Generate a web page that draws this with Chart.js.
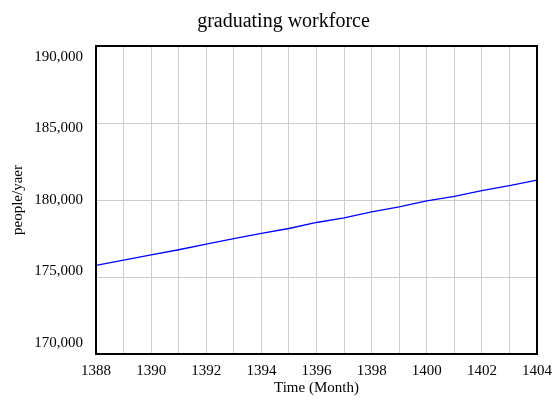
<!DOCTYPE html>
<html>
<head>
<meta charset="utf-8">
<script src="https://cdn.jsdelivr.net/npm/chart.js@4/dist/chart.umd.min.js"></script>
<style>
 html,body{margin:0;padding:0;background:#fff;}
 canvas{display:block;}
</style>
</head>
<body>
<canvas id="chart" width="553" height="403"></canvas>
<script>
// values
const years = [1388,1389,1390,1391,1392,1393,1394,1395,1396,1397,1398,1399,1400,1401,1402,1403,1404];
const workforce = [175760,176090,176440,176770,177140,177490,177840,178150,178540,178840,179230,179560,179950,180240,180610,180940,181290];
const yTicks = [170000,175000,180000,185000,190000];
const xLabelYears = [1388,1390,1392,1394,1396,1398,1400,1402,1404];
const chartTitle = 'graduating workforce';

const serif = '"Liberation Serif", "DejaVu Serif", serif';

// frame, title, and y labels pulled a bit toward the middle (like the original)
const framePlugin = {
 id:'frame',
 afterDraw(chart){
  const {ctx, chartArea:a} = chart;
  const ys = chart.scales.y;
  ctx.save();
  ctx.strokeStyle='#000'; ctx.lineWidth=2;
  ctx.strokeRect(a.left, a.top, a.right-a.left, a.bottom-a.top);
  ctx.fillStyle='#000';
  ctx.font='20px '+serif; ctx.textAlign='center'; ctx.textBaseline='middle';
  ctx.fillText(chartTitle, chart.width/2+7, 22);
  ctx.font='15px '+serif;
  ctx.textAlign='right';
  const mid=(a.top+a.bottom)/2;
  yTicks.forEach(v=>{
   const p=ys.getPixelForValue(v);
   ctx.fillText(v.toLocaleString('en-US'), a.left-13, p+(mid-p)*0.072);
  });
  ctx.restore();
 }
};

new Chart(document.getElementById('chart').getContext('2d'),{
 type:'line',
 data:{datasets:[{
  data: years.map((x,i)=>({x, y: workforce[i]})),
  borderColor:'#0000ff', borderWidth:1.3, pointRadius:0, tension:0, fill:false
 }]},
 options:{
  responsive:false, animation:false,
  layout:{padding:{left:0,right:16,top:46,bottom:0}},
  plugins:{ legend:{display:false}, tooltip:{enabled:false}, title:{display:false} },
  scales:{
   x:{type:'linear', min:1388, max:1404,
    grid:{color:'#cccccc', drawTicks:false},
    border:{display:false},
    ticks:{stepSize:1, padding:8, color:'#000', font:{family:serif,size:15}, maxRotation:0, autoSkip:false,
     callback:v=> xLabelYears.includes(v) ? String(v) : ''},
    title:{display:true, text:'Time (Month)', color:'#000', font:{family:serif,size:15}, padding:{top:0,bottom:6}},
    afterFit(s){ s.height=49; s.paddingLeft=0; s.paddingRight=0; }
   },
   y:{min:170000, max:190000,
    grid:{color:'#cccccc', drawTicks:false},
    border:{display:false},
    ticks:{stepSize:5000, display:false},
    title:{display:true, text:'people/yaer', color:'#000', font:{family:serif,size:15}, padding:{top:9,bottom:0}},
    afterFit(s){ s.width=96; s.paddingTop=0; s.paddingBottom=0; }
   }
  }
 },
 plugins:[framePlugin]
});
</script>
</body>
</html>
